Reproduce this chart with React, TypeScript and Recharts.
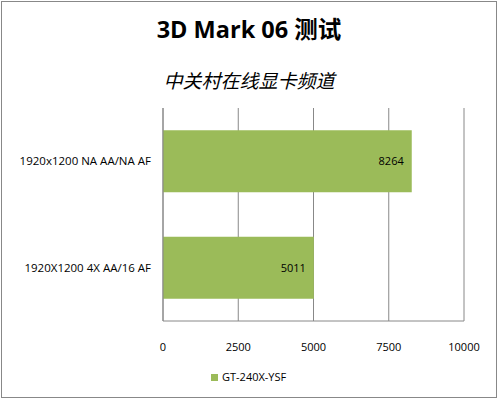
import React from "react";
import { BarChart, Bar, XAxis, YAxis, CartesianGrid, LabelList } from "recharts";

const categories = ["1920x1200 NA AA/NA AF", "1920X1200 4X AA/16 AF"];
const seriesName = "GT-240X-YSF";
const seriesValues = [8264, 5011];
const xTicks = [0, 2500, 5000, 7500, 10000];

const data = categories.map((c, i) => ({ name: c, value: seriesValues[i] }));

const FONT = "'Open Sans', 'Noto Sans CJK SC', sans-serif";
const BAR = "#9BBB59";

const CatTick = (props: any) => {
  const { x, y, payload } = props;
  return (
    <text x={x} y={y} dy={4} textAnchor="end" fontSize={11.5} fill="#000" fontFamily={FONT}>
      {payload.value}
    </text>
  );
};

export default function App() {
  return (
    <div style={{ position: "absolute", left: 0, top: 0, width: 498, height: 399, background: "#fff", fontFamily: FONT }}>
      <div style={{ position: "absolute", left: 1, top: 1, width: 494, height: 395, border: "1px solid #888" }} />
      <div style={{ position: "absolute", left: 0, top: 13, width: 498, textAlign: "center", fontSize: 23.5, fontWeight: 700, color: "#000", fontFamily: "'Open Sans', 'Noto Sans CJK SC', sans-serif", lineHeight: "32px" }}>
        3D Mark 06 测试
      </div>
      <div style={{ position: "absolute", left: 0, top: 66, width: 498, textAlign: "center", fontSize: 19, fontStyle: "italic", color: "#000", fontFamily: "'Noto Sans CJK SC', sans-serif", lineHeight: "28px" }}>
        中关村在线显卡频道
      </div>
      <BarChart
        width={498}
        height={399}
        data={data}
        layout="vertical"
        margin={{ top: 108, right: 34, bottom: 48, left: 0 }}
        barCategoryGap="21%"
        style={{ position: "absolute", left: 0, top: 0 }}
      >
        <CartesianGrid horizontal={false} stroke="#888" />
        <XAxis
          type="number"
          domain={[0, 10000]}
          ticks={xTicks}
          height={30}
          tickLine={false}
          axisLine={{ stroke: "#888" }}
          tickMargin={16}
          tick={{ fontSize: 11, fill: "#000", fontFamily: FONT }}
          interval={0}
        />
        <YAxis
          type="category"
          dataKey="name"
          width={163}
          tickLine={false}
          axisLine={{ stroke: "#888" }}
          tickMargin={6}
          tick={CatTick}
        />
        <Bar dataKey="value" name={seriesName} fill={BAR} isAnimationActive={false}>
          <LabelList dataKey="value" position="insideRight" offset={8} style={{ fontSize: 11, fill: "#000", fontFamily: FONT }} />
        </Bar>
      </BarChart>
      <div style={{ position: "absolute", left: 211, top: 369, display: "flex", alignItems: "center", fontSize: 11, color: "#000", lineHeight: "16px" }}>
        <span style={{ display: "inline-block", width: 7, height: 7, background: BAR, marginRight: 4 }} />
        <span>{seriesName}</span>
      </div>
    </div>
  );
}
